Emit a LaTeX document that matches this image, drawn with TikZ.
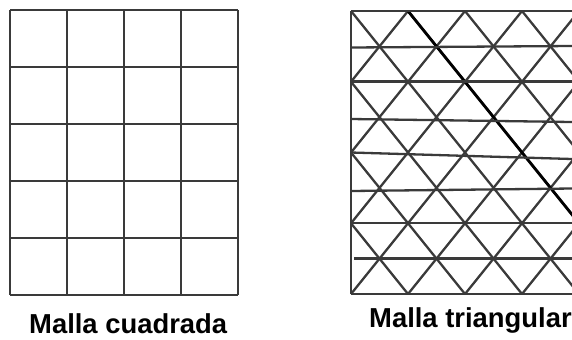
\documentclass[tikz,border=0pt]{standalone}
\usepackage{fontspec}
\setmainfont{Liberation Sans}
\usepackage{tikz}
\usetikzlibrary{positioning}
\definecolor{meshcol}{RGB}{58,58,58}

\begin{document}
\begin{tikzpicture}[
    x=1bp, y=-1bp,
    mesh/.style={draw=meshcol, line width=2.3bp},
    heavy/.style={draw=black, line width=2.8bp},
    caption/.style={inner sep=0pt, anchor=base west, font=\bfseries\fontsize{27.5}{30}\selectfont},
]
\useasboundingbox (0,0) rectangle (572,339);

% square mesh
\foreach \i in {0,...,4}
    \draw[mesh] (10+57*\i,10) -- (10+57*\i,295);
\foreach \j in {0,...,5}
    \draw[mesh] (10,10+57*\j) -- (238,10+57*\j);
\node[caption] (cuadrada) at (29,333.5) {Malla cuadrada};

% triangular mesh
\begin{scope}
    \clip (351,11) rectangle (572,294);
    \foreach \k in {-3,...,3}
        \draw[mesh] (351+57*\k,11) -- (579+57*\k,294);
    \foreach \k in {0,...,7}
        \draw[mesh] (351+57*\k,11) -- (123+57*\k,294);
    \draw[heavy] (408,11) -- (636,294);
\end{scope}
\draw[mesh] (351,11) -- (351,294);
\foreach \yl/\yr in {11/11, 47.5/46, 81.5/81.5, 119/122, 152.5/159, 191/188.5, 223.2/223.2, 294/294}
    \draw[mesh] (351,\yl) -- (572,\yr);
\draw[mesh] (354,258.6) -- (572,258.6);
\node[caption] (triangular) at (369,327) {Malla triangular};
\end{tikzpicture}
\end{document}
